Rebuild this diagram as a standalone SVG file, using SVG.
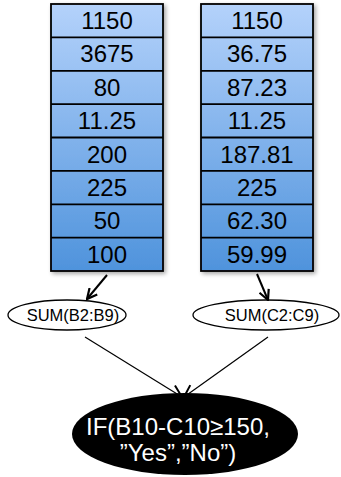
<svg xmlns="http://www.w3.org/2000/svg" width="341" height="477" viewBox="0 0 341 477">
<defs>
<linearGradient id="colg" x1="0" y1="4" x2="0" y2="271" gradientUnits="userSpaceOnUse">
<stop offset="0" stop-color="#b4d2fb"/>
<stop offset="1" stop-color="#4f93dc"/>
</linearGradient>
<filter id="sh" x="-10%" y="-10%" width="130%" height="130%">
<feGaussianBlur in="SourceAlpha" stdDeviation="2"/>
<feOffset dx="2" dy="2"/>
<feComponentTransfer><feFuncA type="linear" slope="0.35"/></feComponentTransfer>
<feMerge><feMergeNode/><feMergeNode in="SourceGraphic"/></feMerge>
</filter>
<marker id="ah" viewBox="0 0 12 12" refX="11" refY="6" markerWidth="12" markerHeight="12" markerUnits="userSpaceOnUse" orient="auto">
<path d="M1,1 L11,6 L1,11" fill="none" stroke="#000" stroke-width="2.2"/>
</marker>
<marker id="ah2" viewBox="0 0 14 14" refX="13" refY="7" markerWidth="14" markerHeight="14" markerUnits="userSpaceOnUse" orient="auto">
<path d="M1,1 L13,7 L1,13" fill="none" stroke="#000" stroke-width="2"/>
</marker>
</defs>
<style>
.cell{fill:none;stroke:#000;stroke-width:1.8}
.col{fill:url(#colg);stroke:#000;stroke-width:1.8}
.v{font-family:"Liberation Sans",Arial,sans-serif;font-size:24px;fill:#000;text-anchor:middle}
.sum{fill:#fff;stroke:#000;stroke-width:1.3}
.st{font-family:"Liberation Sans",Arial,sans-serif;font-size:16.5px;fill:#000;text-anchor:middle}
.it{font-family:"Liberation Sans",Arial,sans-serif;font-size:24px;fill:#fff;text-anchor:middle}
.c1{fill:none;stroke:#000;stroke-width:2}
.c2{fill:none;stroke:#000;stroke-width:1.2}
</style>
<g id="colB">
<rect class="col" x="51" y="4" width="112" height="267" filter="url(#sh)"/>
<path class="cell" d="M51,37.4H163M51,70.8H163M51,104.1H163M51,137.5H163M51,170.9H163M51,204.3H163M51,237.6H163"/>
<text class="v" x="107" y="29">1150</text>
<text class="v" x="107" y="62.4">3675</text>
<text class="v" x="107" y="95.8">80</text>
<text class="v" x="107" y="129.1">11.25</text>
<text class="v" x="107" y="162.5">200</text>
<text class="v" x="107" y="195.9">225</text>
<text class="v" x="107" y="229.3">50</text>
<text class="v" x="107" y="262.6">100</text>
</g>
<g id="colC">
<rect class="col" x="201" y="4" width="112" height="267" filter="url(#sh)"/>
<path class="cell" d="M201,37.4H313M201,70.8H313M201,104.1H313M201,137.5H313M201,170.9H313M201,204.3H313M201,237.6H313"/>
<text class="v" x="257" y="29">1150</text>
<text class="v" x="257" y="62.4">36.75</text>
<text class="v" x="257" y="95.8">87.23</text>
<text class="v" x="257" y="129.1">11.25</text>
<text class="v" x="257" y="162.5">187.81</text>
<text class="v" x="257" y="195.9">225</text>
<text class="v" x="257" y="229.3">62.30</text>
<text class="v" x="257" y="262.6">59.99</text>
</g>
<g id="sumB">
<ellipse class="sum" cx="67" cy="315" rx="59" ry="15"/>
<text class="st" x="73" y="321">SUM(B2:B9)</text>
</g>
<g id="sumC">
<ellipse class="sum" cx="266" cy="315" rx="73" ry="15"/>
<text class="st" x="272" y="321">SUM(C2:C9)</text>
</g>
<g id="ifnode">
<ellipse cx="185" cy="434" rx="113" ry="41" fill="#000"/>
<text class="it" x="178" y="435">IF(B10-C10≥150,</text>
<text class="it" x="178" y="461">”Yes”,”No”)</text>
</g>
<g id="connectors">
<line class="c1" x1="107" y1="275" x2="87" y2="299" marker-end="url(#ah)"/>
<line class="c1" x1="257" y1="274" x2="268" y2="300" marker-end="url(#ah)"/>
<line class="c2" x1="85" y1="337" x2="182" y2="397" marker-end="url(#ah2)"/>
<line class="c2" x1="268" y1="337" x2="184" y2="397" marker-end="url(#ah2)"/>
</g>
</svg>
